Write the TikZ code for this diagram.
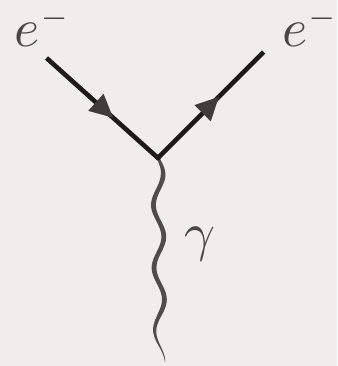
\documentclass[tikz,border=0pt]{standalone}
\usetikzlibrary{decorations.markings}
\definecolor{paper}{RGB}{239,238,235}
\definecolor{fline}{RGB}{28,26,26}
\definecolor{farrow}{RGB}{62,60,60}
\definecolor{phot}{RGB}{78,76,76}
\definecolor{lbl}{RGB}{72,70,70}
\tikzset{
  fermion/.style={draw=fline, line width=4.6pt, postaction={decorate},
    decoration={markings, mark=at position #1 with {\fill[farrow] (1pt,0) -- (-22pt,11.5pt) -- (-22pt,-11.5pt) -- cycle;}}},
  lab/.style={text=lbl, inner sep=0pt, scale=5.4},
}
\newcommand{\supmin}{\raisebox{0.3pt}[1.5pt][0pt]{$\scriptscriptstyle -$}}
\begin{document}
\begin{tikzpicture}[x=1pt,y=-1pt]
\fill[paper] (0,0) rectangle (337,366);
\useasboundingbox (0,0) rectangle (337,366);
\coordinate (v) at (158,158);
\coordinate (a) at (46.5,58);
\coordinate (b) at (263.5,52);
\draw[fermion=0.59] (a) -- (v);
\draw[fermion=0.57] (v) -- (b);
\begin{scope}[shift={(v)}]
\fill[phot] plot[domain=0:204, samples=140, variable=\t]
  ({2*\t/204 + 5*sin(\t*5.7325) - (0.4 + 4.4*min(1,(204-\t)/50)*min(1,0.55+\t/40))/2}, {\t})
  -- plot[domain=204:0, samples=140, variable=\t]
  ({2*\t/204 + 5*sin(\t*5.7325) + (0.4 + 4.4*min(1,(204-\t)/50)*min(1,0.55+\t/40))/2}, {\t})
  -- cycle;
\end{scope}
\fill[fline] (v) circle (2.6pt);
\node[lab, anchor=base west] (eL) at (13.5,46.5) {$e^{\supmin}$};
\node[lab, anchor=base west] (eR) at (281,46.5) {$e^{\supmin}$};
\node[lab, anchor=base west] (gam) at (183,250) {$\gamma$};
\end{tikzpicture}
\end{document}
